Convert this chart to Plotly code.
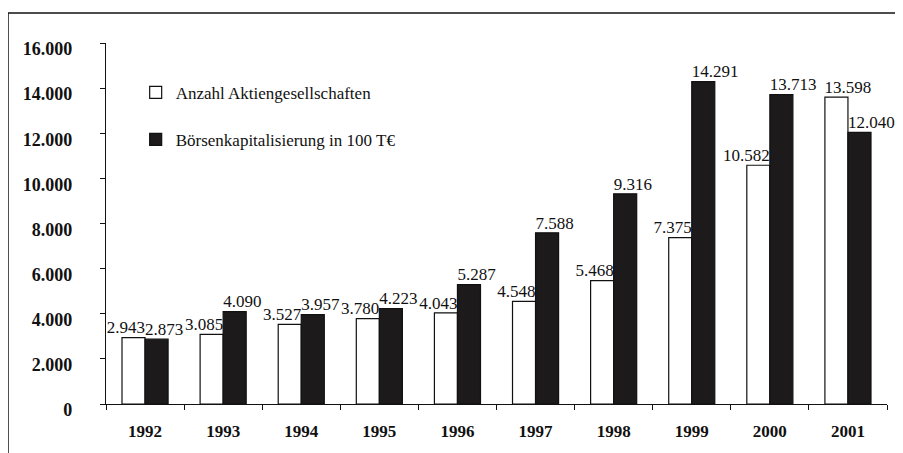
import plotly.graph_objects as go

years = ["1992", "1993", "1994", "1995", "1996", "1997", "1998", "1999", "2000", "2001"]
anzahl = [2943, 3085, 3527, 3780, 4043, 4548, 5468, 7375, 10582, 13598]
kapital = [2873, 4090, 3957, 4223, 5287, 7588, 9316, 14291, 13713, 12040]
yticks = [0, 2000, 4000, 6000, 8000, 10000, 12000, 14000, 16000]

def fmt(v):
    return f"{v:,}".replace(",", ".")

FONT = '"Liberation Serif", "Times New Roman", Times, serif'
bargap = 0.41
idx = list(range(len(years)))

white_pos = ["top left"] * (len(years) - 1) + ["top center"]

fig = go.Figure()
fig.add_trace(go.Bar(
    x=years, y=anzahl, name="Anzahl Aktiengesellschaften",
    marker=dict(color="white", line=dict(color="#111", width=1.2)),
    legendgroup="a",
))
fig.add_trace(go.Bar(
    x=years, y=kapital, name="Börsenkapitalisierung in 100 T€",
    marker=dict(color="#1c1a1b", line=dict(color="#111", width=1.2)),
    legendgroup="b",
))
# value labels on an overlaid numeric axis: white labels end at the bar pair's
# centre, black labels start there
fig.add_trace(go.Scatter(
    x=idx, y=anzahl, mode="text", text=[fmt(v) for v in anzahl],
    textposition=white_pos, textfont=dict(family=FONT, size=17, color="#111"),
    xaxis="x2", showlegend=False, hoverinfo="skip", cliponaxis=False,
))
fig.add_trace(go.Scatter(
    x=idx, y=kapital, mode="text", text=[fmt(v) for v in kapital],
    textposition="top right", textfont=dict(family=FONT, size=17, color="#111"),
    xaxis="x2", showlegend=False, hoverinfo="skip", cliponaxis=False,
))

fig.update_layout(
    width=895, height=445,
    margin=dict(l=98, r=16, t=35, b=49),
    paper_bgcolor="white", plot_bgcolor="white",
    barmode="group", bargap=bargap, bargroupgap=0,
    font=dict(family=FONT, color="#111"),
    showlegend=True,
    legend=dict(
        x=0.038, y=0.912, xanchor="left", yanchor="top",
        font=dict(family=FONT, size=17, color="#111"),
        tracegroupgap=22, bgcolor="rgba(0,0,0,0)",
    ),
    xaxis=dict(
        type="category", range=[-0.5, 9.5],
        showline=True, linecolor="#111", linewidth=1.2,
        ticks="outside", tickson="boundaries", ticklen=5, tickcolor="#111",
        tickfont=dict(family=FONT, size=17, color="#111", weight="bold"),
        ticklabelstandoff=11, showgrid=False, zeroline=False,
    ),
    xaxis2=dict(
        overlaying="x", range=[-0.5, 9.5], visible=False,
    ),
    yaxis=dict(
        range=[0, 16000], tickvals=yticks, ticktext=[fmt(v) for v in yticks],
        showline=True, linecolor="#111", linewidth=1.2,
        ticks="outside", ticklen=5, tickcolor="#111",
        tickfont=dict(family=FONT, size=18, color="#111", weight="bold"),
        ticklabelstandoff=24, ticklabelshift=6, showgrid=False, zeroline=False,
    ),
    shapes=[
        dict(type="line", xref="paper", yref="paper",
             x0=-0.1255, x1=1.05, y0=1.083, y1=1.083,
             line=dict(color="#111", width=1.5)),
        dict(type="line", xref="paper", yref="paper",
             x0=-0.1255, x1=-0.1255, y0=1.083, y1=-0.14,
             line=dict(color="#111", width=1.5)),
    ],
)

fig.write_html("out.html")
